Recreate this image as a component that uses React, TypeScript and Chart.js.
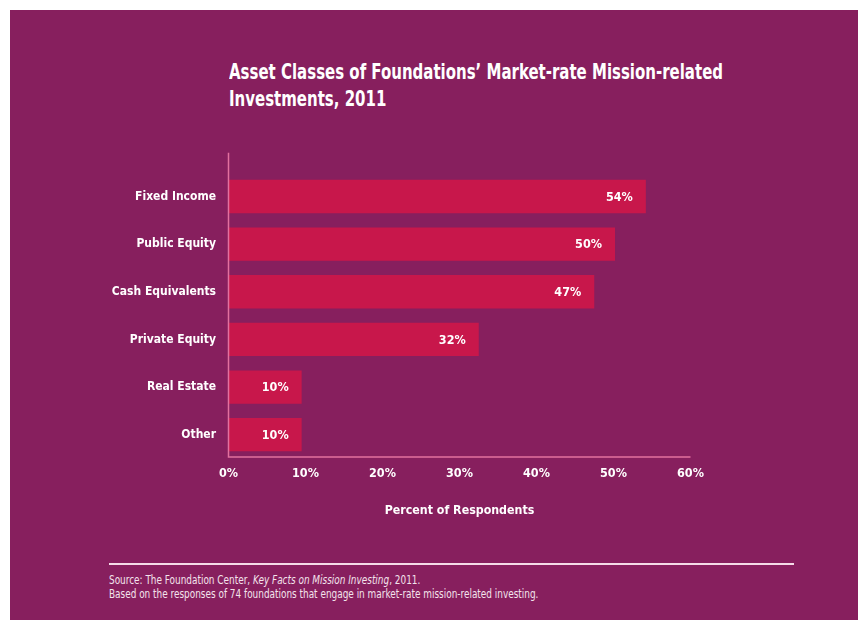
import React, { useEffect, useRef } from "react";
import { Chart, registerables } from "chart.js";

Chart.register(...registerables);

const categories = ["Fixed Income", "Public Equity", "Cash Equivalents", "Private Equity", "Real Estate", "Other"];
const values = [54.2, 50.2, 47.5, 32.5, 9.5, 9.5];
const valueLabels = ["54%", "50%", "47%", "32%", "10%", "10%"];
const xTickLabels = ["0%", "10%", "20%", "30%", "40%", "50%", "60%"];

const FONT = "'DejaVu Sans Condensed', 'Liberation Sans Narrow', sans-serif";
const BG = "#871f5e";
const BAR = "#c8174b";
const AXIS = "#e2719f";

const axisLinePlugin = {
  id: "axisLines",
  afterDatasetsDraw(chart: any) {
    const { ctx, chartArea } = chart;
    ctx.save();
    ctx.strokeStyle = AXIS;
    ctx.lineWidth = 1.5;
    ctx.beginPath();
    ctx.moveTo(chartArea.left, chartArea.top - 20);
    ctx.lineTo(chartArea.left, chartArea.bottom - 1.5);
    ctx.lineTo(chartArea.right, chartArea.bottom - 1.5);
    ctx.stroke();
    ctx.restore();
  },
};

const valueLabelPlugin = {
  id: "valueLabels",
  afterDatasetsDraw(chart: any) {
    const { ctx } = chart;
    const meta = chart.getDatasetMeta(0);
    ctx.save();
    ctx.fillStyle = "#ffffff";
    ctx.font = `bold 12.5px ${FONT}`;
    ctx.textAlign = "right";
    ctx.textBaseline = "middle";
    meta.data.forEach((bar: any, i: number) => {
      ctx.fillText(valueLabels[i], bar.x - 13, bar.y + 1);
    });
    ctx.restore();
  },
};

function ChartCanvas() {
  const ref = useRef<HTMLCanvasElement>(null);
  useEffect(() => {
    if (!ref.current) return;
    const chart = new Chart(ref.current, {
      type: "bar",
      data: {
        labels: categories,
        datasets: [
          {
            data: values,
            backgroundColor: BAR,
            borderWidth: 0,
            barPercentage: 0.7,
            categoryPercentage: 1,
          },
        ],
      },
      options: {
        indexAxis: "y",
        animation: false,
        responsive: false,
        devicePixelRatio: 1,
        layout: { padding: { top: 32.7, right: 167.5, left: 0, bottom: 0 } },
        plugins: {
          legend: { display: false },
          tooltip: { enabled: false },
        },
        scales: {
          x: {
            min: 0,
            max: 60,
            grid: { display: false, drawTicks: false },
            border: { display: false },
            ticks: {
              stepSize: 10,
              padding: 8,
              color: "#ffffff",
              font: { family: FONT, size: 12.5, weight: "bold" },
              callback: (_v: any, i: number) => xTickLabels[i],
            },
            title: {
              display: true,
              text: "Percent of Respondents",
              color: "#ffffff",
              font: { family: FONT, size: 12.3, weight: "bold" },
              padding: { top: 0, bottom: 22 },
            },
            afterFit: (scale: any) => {
              scale.height = 81.5;
            },
          },
          y: {
            grid: { display: false, drawTicks: false },
            border: { display: false },
            ticks: {
              padding: 12.5,
              color: "#ffffff",
              font: { family: FONT, size: 12, weight: "bold" },
            },
            afterFit: (scale: any) => {
              scale.width = 218.5;
            },
          },
        },
      },
      plugins: [axisLinePlugin, valueLabelPlugin],
    });
    return () => chart.destroy();
  }, []);
  return (
    <canvas
      ref={ref}
      width={848}
      height={400}
      style={{ position: "absolute", left: 0, top: 130, width: 848, height: 400 }}
    />
  );
}

export default function App() {
  return (
    <div
      style={{
        position: "absolute",
        left: 10,
        top: 10,
        width: 848,
        height: 610,
        background: BG,
        overflow: "hidden",
        fontFamily: FONT,
        color: "#ffffff",
      }}
    >
      <div
        style={{
          position: "absolute",
          left: 219,
          top: 49,
          fontSize: 21,
          lineHeight: "27px",
          fontWeight: "bold",
          whiteSpace: "nowrap",
          transform: "scaleX(0.793)",
          transformOrigin: "0 0",
        }}
      >
        Asset Classes of Foundations’ Market-rate Mission-related
        <br />
        Investments, 2011
      </div>
      <ChartCanvas />
      <div
        style={{
          position: "absolute",
          left: 99,
          top: 553,
          width: 685,
          height: 2,
          background: "#f5dbe8",
        }}
      />
      <div
        style={{
          position: "absolute",
          left: 99,
          top: 563,
          fontSize: 12,
          lineHeight: "14px",
          color: "#f3e3ec",
          whiteSpace: "nowrap",
          transform: "scaleX(0.825)",
          transformOrigin: "0 0",
        }}
      >
        Source: The Foundation Center, <i>Key Facts on Mission Investing</i>, 2011.
        <br />
        Based on the responses of 74 foundations that engage in market-rate mission-related investing.
      </div>
    </div>
  );
}
